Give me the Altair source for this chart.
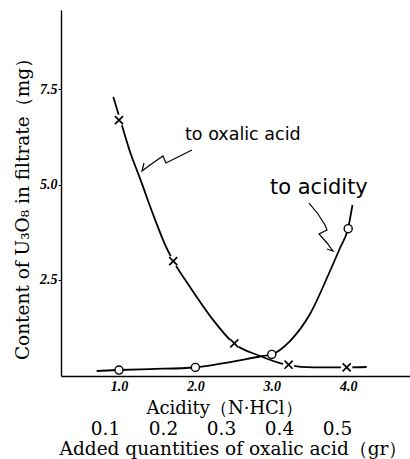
import altair as alt
import pandas as pd

# ---- data ----
# curve "to oxalic acid" (crosses), sampled along the drawn curve
ox_curve_x = [0.925, 1.013, 1.144, 1.275, 1.449, 1.624, 1.711, 1.886, 2.017, 2.234, 2.496, 2.846, 3.216, 3.543, 3.958, 4.242]
ox_curve_y = [7.30, 6.72, 5.86, 5.16, 4.20, 3.33, 2.99, 2.44, 2.05, 1.44, 0.84, 0.50, 0.26, 0.20, 0.20, 0.21]
# curve "to acidity" (circles), sampled along the drawn curve
ac_curve_x = [0.708, 0.987, 1.406, 1.995, 2.453, 2.846, 2.996, 3.238, 3.500, 3.762, 3.893, 3.997, 4.056]
ac_curve_y = [0.105, 0.131, 0.157, 0.197, 0.341, 0.486, 0.538, 0.892, 1.601, 2.730, 3.333, 3.840, 4.462]
# measured points
ox_pts_x = [1.0, 1.71, 2.51, 3.22, 3.98]
ox_pts_y = [6.69, 2.99, 0.83, 0.27, 0.20]
ac_pts_x = [1.0, 2.0, 3.0, 4.0]
ac_pts_y = [0.13, 0.20, 0.54, 3.84]
# tick values
x_ticks = [1.0, 2.0, 3.0, 4.0]
y_ticks = [2.5, 5.0, 7.5]
oxalic_ticks = [0.1, 0.2, 0.3, 0.4, 0.5]
# annotation squiggles (data coordinates)
sq1_x = [1.955, 1.772, 1.615, 1.576, 1.406, 1.301, 1.327]
sq1_y = [5.906, 5.722, 5.564, 5.748, 5.512, 5.354, 5.564]
sq2_x = [3.487, 3.605, 3.696, 3.723, 3.618, 3.723, 3.801, 3.723]
sq2_y = [4.514, 4.226, 3.937, 3.806, 3.701, 3.465, 3.255, 3.307]
labels = ["to oxalic acid", "to acidity"]
label_x = [1.864, 2.976]
label_y = [6.30, 4.91]

SERIF = "DejaVu Serif"

ox_curve = pd.DataFrame({"x": ox_curve_x, "y": ox_curve_y})
ac_curve = pd.DataFrame({"x": ac_curve_x, "y": ac_curve_y})
ox_pts = pd.DataFrame({"x": ox_pts_x, "y": ox_pts_y})
ac_pts = pd.DataFrame({"x": ac_pts_x, "y": ac_pts_y})
sq = pd.DataFrame({
    "x": sq1_x + sq2_x,
    "y": sq1_y + sq2_y,
    "g": ["a"] * len(sq1_x) + ["b"] * len(sq2_x),
    "o": list(range(len(sq1_x))) + list(range(len(sq2_x))),
})
lab = pd.DataFrame({"x": label_x, "y": label_y, "t": labels})
oxa = pd.DataFrame({"q": oxalic_ticks, "y": [0.0] * len(oxalic_ticks)})

xscale = alt.Scale(domain=[0.241, 4.809], nice=False, zero=False)
yscale = alt.Scale(domain=[-0.026, 9.58], nice=False, zero=False)

xaxis = alt.Axis(values=x_ticks, format=".1f", grid=False, ticks=False, orient="bottom",
                 labelFont="Liberation Serif", labelFontSize=14, labelFontStyle="italic",
                 labelFontWeight="bold", labelColor="black", labelPadding=3,
                 domainColor="black", domainWidth=1.6,
                 title="Acidity（N·HCl）", titleFont=SERIF, titleFontSize=18,
                 titleFontWeight="normal", titleColor="black",
                 titleX=163, titleY=32, titleAlign="center", titleBaseline="middle")
yaxis = alt.Axis(values=y_ticks, format=".1f", grid=False, tickSize=3, tickColor="black",
                 labelFont="Liberation Serif", labelFontSize=14, labelFontStyle="italic",
                 labelFontWeight="bold", labelColor="black", labelPadding=1,
                 domainColor="black", domainWidth=1.4,
                 title="Content of U₃O₈ in filtrate（mg）", titleFont=SERIF, titleFontSize=18.5,
                 titleFontWeight="normal", titleColor="black",
                 titleX=-39, titleY=194, titleAngle=270, titleAlign="center",
                 titleBaseline="middle")


def X():
    return alt.X("x:Q", scale=xscale, axis=xaxis)


def Y():
    return alt.Y("y:Q", scale=yscale, axis=yaxis)


ox_line = alt.Chart(ox_curve).mark_line(color="black", strokeWidth=1.8, interpolate="monotone").encode(x=X(), y=Y())
ac_line = alt.Chart(ac_curve).mark_line(color="black", strokeWidth=1.8, interpolate="monotone").encode(x=X(), y=Y())
gap = alt.Chart(ox_pts).mark_point(shape="circle", filled=True, fill="white", opacity=1,
                                    strokeWidth=0, size=130).encode(x=X(), y=Y())
crosses = alt.Chart(ox_pts).mark_point(shape="M-1,-1L1,1M-1,1L1,-1", filled=False, color="black",
                                        strokeWidth=1.7, size=65, opacity=1).encode(x=X(), y=Y())
circles = alt.Chart(ac_pts).mark_point(shape="circle", filled=False, fill="white", stroke="black",
                                        strokeWidth=1.4, size=65, opacity=1).encode(x=X(), y=Y())
squig = alt.Chart(sq).mark_line(color="black", strokeWidth=1.2, interpolate="linear").encode(
    x=X(), y=Y(), detail="g:N", order="o:Q")
lab1 = alt.Chart(lab.iloc[[0]]).mark_text(align="left", baseline="middle", font="DejaVu Sans",
                                           fontSize=17.5, color="black").encode(x=X(), y=Y(), text="t:N")
lab2 = alt.Chart(lab.iloc[[1]]).mark_text(align="left", baseline="middle", font="DejaVu Sans",
                                           fontSize=21, color="black").encode(x=X(), y=Y(), text="t:N")

main = alt.layer(ox_line, ac_line, squig, gap, crosses, circles, lab1, lab2)

oxaxis = alt.Chart(oxa).mark_point(opacity=0).encode(
    x=alt.X("q:Q", scale=alt.Scale(domain=[0.0241, 0.626], nice=False, zero=False),
            axis=alt.Axis(values=oxalic_ticks, format=".1f", grid=False, ticks=False, tickSize=0,
                          orient="bottom", domain=False, labelFont=SERIF, labelFontSize=18.5,
                          labelColor="black", labelPadding=52, labelBaseline="middle",
                          title="Added quantities of oxalic acid（gr）", titleFont=SERIF,
                          titleFontSize=18.5, titleFontWeight="normal", titleColor="black",
                          titleX=172, titleY=72, titleAlign="center", titleBaseline="middle")),
    y=Y(),
)

chart = alt.layer(main, oxaxis).resolve_scale(x="independent").properties(
    width=349, height=366,
    autosize=alt.AutoSizeParams(type="none"),
    padding={"left": 61, "top": 10, "right": 0, "bottom": 83},
    background="white",
).configure_view(stroke=None)

chart.save("out.html", embed_options={"renderer": "svg", "actions": False})
